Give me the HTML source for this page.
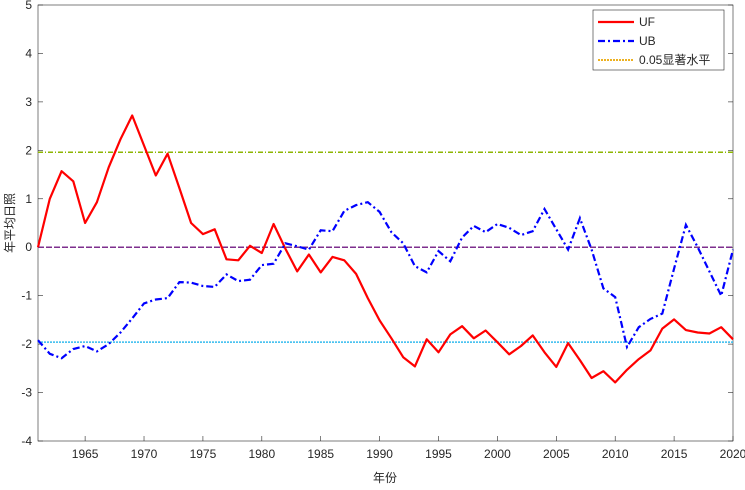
<!DOCTYPE html>
<html><head><meta charset="utf-8"><style>
body{margin:0;background:#fff;}
svg text{font-family:"Liberation Sans","Noto Sans CJK SC",sans-serif;font-size:12px;fill:#262626;}
</style></head><body>
<svg id="chart" width="745" height="485" xmlns="http://www.w3.org/2000/svg">
<g id="grid"></g><g id="series"></g>
</svg>
<script>
const years = [];for(let y=1961;y<=2020;y++)years.push(y);
const ufValues = [0,1.0,1.57,1.36,0.5,0.93,1.65,2.23,2.72,2.1,1.48,1.93,1.22,0.5,0.27,0.37,-0.25,-0.27,0.03,-0.12,0.48,-0.03,-0.5,-0.15,-0.52,-0.2,-0.27,-0.55,-1.05,-1.51,-1.88,-2.27,-2.46,-1.9,-2.17,-1.8,-1.63,-1.88,-1.72,-1.96,-2.21,-2.04,-1.82,-2.17,-2.47,-1.98,-2.33,-2.7,-2.56,-2.79,-2.53,-2.31,-2.13,-1.68,-1.49,-1.71,-1.76,-1.78,-1.65,-1.9];
const ubValues = [-1.92,-2.2,-2.29,-2.1,-2.04,-2.15,-2.0,-1.76,-1.47,-1.16,-1.08,-1.05,-0.72,-0.73,-0.8,-0.82,-0.56,-0.7,-0.67,-0.37,-0.34,0.08,0.02,-0.05,0.35,0.33,0.75,0.87,0.93,0.73,0.31,0.08,-0.39,-0.52,-0.08,-0.29,0.2,0.44,0.31,0.48,0.40,0.25,0.33,0.79,0.37,-0.05,0.6,-0.05,-0.85,-1.03,-2.06,-1.65,-1.48,-1.37,-0.44,0.46,0.0,-0.5,-1.0,-0.05];
const yTicks = [5,4,3,2,1,0,-1,-2,-3,-4];
const xTicks = [1965,1970,1975,1980,1985,1990,1995,2000,2005,2010,2015,2020];
const sigLevel = 1.96;

const L=38,R=733,T=5,B=441;
const xs=v=>L+(v-1961)/(2020-1961)*(R-L);
const ys=v=>T+(5-v)/9*(B-T);
const NS="http://www.w3.org/2000/svg";
const svg=document.getElementById('chart');
function mk(tag,attrs,parent){const e=document.createElementNS(NS,tag);for(const k in attrs)e.setAttribute(k,attrs[k]);(parent||svg).appendChild(e);return e;}
const g=document.getElementById('grid'), s=document.getElementById('series');
let box=mk('rect',{x:L,y:T,width:R-L,height:B-T,fill:'none',stroke:'#262626','stroke-width':0.6},g);


yTicks.forEach(v=>{
  const y=ys(v);
  const t=mk('line',{x1:L,x2:L+5,y1:y,y2:y,stroke:'#262626','stroke-width':0.6},g);
  
  
  const t2=mk('line',{x1:R-5,x2:R,y1:y,y2:y,stroke:'#262626','stroke-width':0.6},g);
  
  
  const tx=mk('text',{x:L-6,y:y+4,'text-anchor':'end'},g);tx.textContent=v;
  
  
});
xTicks.forEach(v=>{
  const x=xs(v);
  const t=mk('line',{x1:x,x2:x,y1:B,y2:B-5,stroke:'#262626','stroke-width':0.6},g);
  
  
  const tx=mk('text',{x:x,y:B+17,'text-anchor':'middle'},g);tx.textContent=v;
  
  
});
let xl=mk('text',{x:385,y:482,'text-anchor':'middle'},g);xl.textContent='年份';


let yl=mk('text',{x:0,y:0,'text-anchor':'middle',transform:'translate(14,'+ys(0.5)+') rotate(-90)'},g);yl.textContent='年平均日照';



let up=mk('line',{x1:L,x2:R,y1:ys(sigLevel),y2:ys(sigLevel),stroke:'#8db600','stroke-width':1.5,'stroke-dasharray':'5 2 1 2'},s);


let lo=mk('line',{x1:L,x2:R,y1:ys(-sigLevel),y2:ys(-sigLevel),stroke:'#33bbee','stroke-width':1.5,'stroke-dasharray':'2 1'},s);


let zr=mk('line',{x1:L,x2:R,y1:ys(0),y2:ys(0),stroke:'#7e2f8e','stroke-width':1.5,'stroke-dasharray':'6 2'},s);


const pts=a=>a.map((v,i)=>xs(years[i]).toFixed(1)+','+ys(v).toFixed(1)).join(' ');
let uf=mk('polyline',{points:pts(ufValues),fill:'none',stroke:'#ff0000','stroke-width':2.2,'stroke-linejoin':'round'},s);


let ub=mk('polyline',{points:pts(ubValues),fill:'none',stroke:'#0000ff','stroke-width':2.2,'stroke-dasharray':'7 3 2 3'},s);


</script>
<svg style="position:absolute;left:0;top:0" width="745" height="485">
<g>
<rect x="593" y="10" width="131" height="60" fill="#fff" stroke="#262626" stroke-width="0.6"/>
<line x1="598" x2="634" y1="22" y2="22" stroke="#ff0000" stroke-width="2.2"/>
<text x="639" y="26">UF</text>
<line x1="598" x2="634" y1="41" y2="41" stroke="#0000ff" stroke-width="2.2" stroke-dasharray="7 3 2 3"/>
<text x="639" y="45">UB</text>
<line x1="598" x2="634" y1="60" y2="60" stroke="#edb120" stroke-width="2" stroke-dasharray="2 1"/>
<text x="639" y="64">0.05显著水平</text>
</g>
</svg>
</body></html>
